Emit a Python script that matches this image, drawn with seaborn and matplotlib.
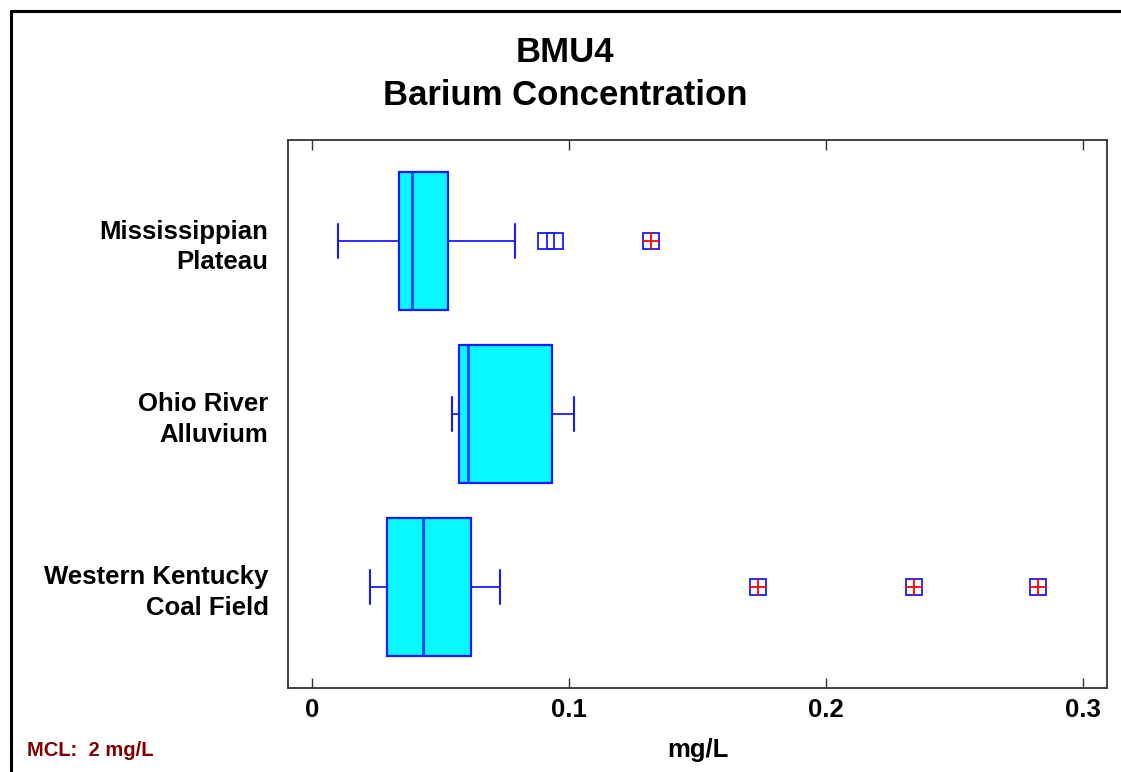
import numpy as np
import pandas as pd
import matplotlib
matplotlib.use("Agg")
import matplotlib.pyplot as plt
from matplotlib.lines import Line2D
import seaborn as sns

# ---- data ----
groups = ["Mississippian\nPlateau", "Ohio River\nAlluvium", "Western Kentucky\nCoal Field"]
whisker_low = [0.0100, 0.0546, 0.0226]
q1 = [0.0337, 0.0572, 0.0290]
median = [0.0390, 0.0607, 0.0432]
q3 = [0.0530, 0.0933, 0.0620]
whisker_high = [0.0790, 0.1020, 0.0731]
mild_outliers = [[0.0909, 0.0947], [], []]
far_outliers = [[0.1319], [], [0.1734, 0.2343, 0.2825]]
x_ticks = [0, 0.1, 0.2, 0.3]
x_tick_labels = ["0", "0.1", "0.2", "0.3"]


def summary_sample(lo, a, m, b, hi, outs):
    """Minimal sample whose Tukey summary reproduces the five numbers."""
    k = len(outs) + 1
    return [lo] + [a] * k + [m] * k + [b] * k + [hi] + list(outs)


rows = []
for i, g in enumerate(groups):
    outs = sorted(mild_outliers[i] + far_outliers[i])
    for v in summary_sample(whisker_low[i], q1[i], median[i], q3[i], whisker_high[i], outs):
        rows.append({"group": g, "value": v})
df = pd.DataFrame(rows)
far_df = pd.DataFrame([{"group": g, "value": v}
                       for g, vals in zip(groups, far_outliers) for v in vals])

sns.set_theme(style="white")
plt.rcParams["font.family"] = ["Liberation Sans", "DejaVu Sans"]
plt.rcParams["font.weight"] = "bold"

fig = plt.figure(figsize=(11.21, 7.72), dpi=100)
ax = fig.add_axes([288 / 1121, 1 - 688 / 772, (1107 - 288) / 1121, (688 - 140) / 772])

blue = "#1a1aFF"
sns.boxplot(
    data=df, x="value", y="group", order=groups, orient="h", ax=ax,
    width=0.8, whis=1.5, color="#00FFFF", linecolor=blue, linewidth=1.6,
    fliersize=12, capwidths=0.2,
    boxprops=dict(facecolor="#08F8FF", edgecolor=blue, linewidth=1.6),
    medianprops=dict(color="#0040FF", linewidth=2.0),
    whiskerprops=dict(color=blue, linewidth=1.3),
    capprops=dict(color=blue, linewidth=1.5),
    flierprops=dict(marker="s", markersize=12, markerfacecolor="none",
                    markeredgecolor=blue, markeredgewidth=1.3),
)
sns.stripplot(data=far_df, x="value", y="group", order=groups, orient="h", ax=ax,
              jitter=False, marker="+", color="red", size=12.5, linewidth=1.3,
              zorder=5)

ax.set_xlim(-0.00934, 0.3093)
ax.set_ylim(2.584, -0.584)
ax.set_xticks(x_ticks)
ax.set_xticklabels(x_tick_labels)
ax.tick_params(axis="x", which="both", top=True, bottom=True, direction="in",
               length=7, width=1.0, color="#333333", labelsize=18.5, pad=7,
               labelcolor="black")
ax.tick_params(axis="y", left=False, labelsize=18.5, pad=8, labelcolor="black")
for lbl in ax.get_yticklabels():
    lbl.set_horizontalalignment("right")
    lbl.set_fontweight("bold")
    lbl.set_linespacing(1.35)
for lbl in ax.get_xticklabels():
    lbl.set_fontweight("bold")
ax.set_ylabel("")
ax.set_xlabel("mg/L", fontsize=18.5, fontweight="bold", labelpad=12, color="black")
for sp in ax.spines.values():
    sp.set_visible(True)
    sp.set_color("#333333")
    sp.set_linewidth(1.3)

# titles
fig.text(565 / 1121, 1 - 62 / 772, "BMU4", ha="center", va="baseline",
         fontsize=25, fontweight="bold", color="black")
fig.text(565 / 1121, 1 - 105 / 772, "Barium Concentration", ha="center", va="baseline",
         fontsize=25, fontweight="bold", color="black")
fig.text(27 / 1121, 1 - 756 / 772, "MCL:  2 mg/L", ha="left", va="baseline",
         fontsize=14.5, fontweight="bold", color="#800000")

# outer frame (left and top edges visible)
fig.add_artist(Line2D([10.5 / 1121, 10.5 / 1121], [0, 1 - 10.5 / 772],
                      transform=fig.transFigure, color="black", linewidth=2.2))
fig.add_artist(Line2D([10.5 / 1121, 1], [1 - 10.5 / 772, 1 - 10.5 / 772],
                      transform=fig.transFigure, color="black", linewidth=2.2))

fig.savefig("out.png", dpi=100)
